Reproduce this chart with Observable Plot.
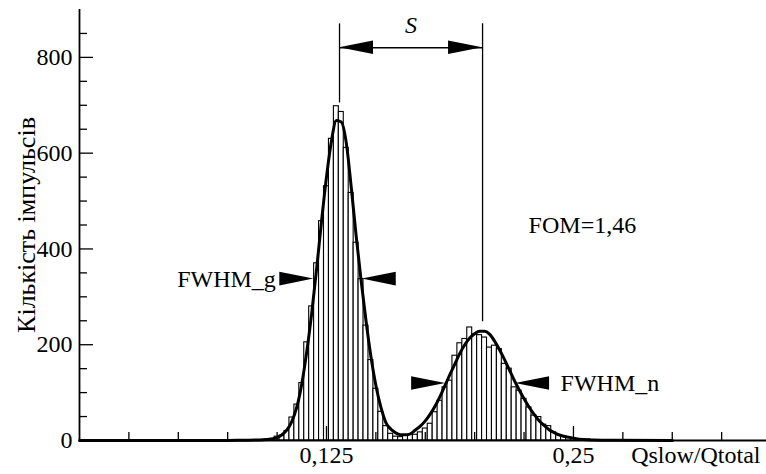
<!DOCTYPE html>
<html><head><meta charset="utf-8">
<script src="https://cdn.jsdelivr.net/npm/d3@7"></script>
<script src="https://cdn.jsdelivr.net/npm/@observablehq/plot@0.6"></script>
<style>body{margin:0;background:#fff} svg{display:block}</style>
</head><body><div id="chart"></div>
<script>
// ---- histogram (bin centres, counts), bin width 0.0025 ----
const binCenters = [0.0925,0.095,0.0975,0.1,0.1025,0.105,0.1075,0.11,0.1125,0.115,0.1175,0.12,0.1225,0.125,0.1275,0.13,0.1325,0.135,0.1375,0.14,0.1425,0.145,0.1475,0.15,0.1525,0.155,0.1575,0.16,0.1625,0.165,0.1675,0.17,0.1725,0.175,0.1775,0.18,0.1825,0.185,0.1875,0.19,0.1925,0.195,0.1975,0.2,0.2025,0.205,0.2075,0.21,0.2125,0.215,0.2175,0.22,0.2225,0.225,0.2275,0.23,0.2325,0.235,0.2375,0.24,0.2425,0.245,0.2475,0.25,0.2525,0.255,0.2575,0.26];
const binCounts  = [1,2,3,8,10,20,48,75,120,205,280,370,458,531,630,698,686,611,517,413,337,240,168,108,60,30,14,8,7,10,12,12,17,25,35,59,83,111,125,177,203,212,236,222,220,215,194,198,191,160,150,111,104,87,69,52,49,33,30,17,11,8,6,4,3,2,2,1];
const binWidth = 0.0025;

// ---- fitted curve ----
const fitX = [0,0.06,0.08,0.09,0.095,0.1,0.1025,0.105,0.1075,0.11,0.1125,0.115,0.1175,0.12,0.1225,0.125,0.1275,0.13,0.1325,0.135,0.1375,0.14,0.1425,0.145,0.1475,0.15,0.1525,0.155,0.1575,0.16,0.1625,0.165,0.1675,0.17,0.1725,0.175,0.1775,0.18,0.1825,0.185,0.1875,0.19,0.1925,0.195,0.1975,0.2,0.2025,0.205,0.2075,0.21,0.2125,0.215,0.2175,0.22,0.2225,0.225,0.2275,0.23,0.2325,0.235,0.2375,0.24,0.2425,0.245,0.25,0.255,0.26,0.27,0.3];
const fitY = [0,0,0.3,1,2,6,12,22,40,70,118,185,265,358,458,550,625,668,665,622,530,428,335,250,175,115,70,38,24,16,12,12,14,22,30,41,55,72,92,115,138,160,182,200,214,223,228,228,222,208,190,170,148,126,106,87,70,55,42,32,23,17,12,9,5,2,1,0.3,0];

// ---- axes ----
const xMinorTicks = [0.025,0.05,0.075,0.1,0.15,0.175,0.2,0.225,0.275,0.3,0.325];
const xMajorTicks = [0.125,0.25];
const xTickLabels = ["0,125","0,25"];
const yMinorTicks = [50,100,150,250,300,350,450,500,550,650,700,750,850];
const yMajorTicks = [0,200,400,600,800];
const yTickLabels = ["0","200","400","600","800"];
const xTitle = "Qslow/Qtotal";
const yTitle = "Кількість імпульсів";

// ---- annotations (data units) ----
const sPeaks = [0.1316, 0.2040];      // x of the two peak markers
const sPeakTops = [705, 248];         // lower ends of the marker lines
const sTop = 870, sLevel = 820;
const fwhmG = [0.1186, 0.1431], fwhmGLevel = 337;
const fwhmN = [0.1853, 0.2207], fwhmNLevel = 119;
const fomLabel = "FOM=1,46", fomX = 0.2273, fomY = 449;
const yTitleX = -0.0266, yTitleY = 450;

const bins = binCenters.map((c, i) => ({x1: c - binWidth/2, x2: c + binWidth/2, y: binCounts[i]}));
const fit = fitX.map((x, i) => ({x, y: fitY[i]}));

const heads = [
  {x: sPeaks[0], y: sLevel, dir: -1},
  {x: sPeaks[1], y: sLevel, dir: 1},
  {x: fwhmG[0], y: fwhmGLevel, dir: 1},
  {x: fwhmG[1], y: fwhmGLevel, dir: -1},
  {x: fwhmN[0], y: fwhmNLevel, dir: 1},
  {x: fwhmN[1], y: fwhmNLevel, dir: -1}
];
function arrowHeads(index, scales) {
  const g = d3.create("svg:g");
  const len = 34, half = 6.8;
  for (const h of heads) {
    const px = scales.x(h.x), py = scales.y(h.y), bx = px - h.dir * len;
    g.append("path").attr("d", `M${px},${py}L${bx},${py - half}L${bx},${py + half}Z`).attr("fill", "black");
  }
  return g.node();
}

const W = 766, H = 474, mL = 79, mR = 0, mT = 9, mB = 34;
const plotW = W - mL - mR, plotH = H - mT - mB;
const fs = 24;
const ff = "Liberation Serif";

const chart = Plot.plot({
  width: W, height: H,
  marginLeft: mL, marginRight: mR, marginTop: mT, marginBottom: mB,
  style: {background: "white", overflow: "visible"},
  x: {domain: [0, 0.3477], axis: null},
  y: {domain: [0, 900], axis: null},
  marks: [
    Plot.rectY(bins, {x1: "x1", x2: "x2", y: "y", fill: "white", stroke: "black", strokeWidth: 1.1}),
    Plot.line(fit, {x: "x", y: "y", stroke: "black", strokeWidth: 3, curve: "monotone-x"}),
    // axis lines
    Plot.ruleX([0], {stroke: "black", strokeWidth: 1.8}),
    Plot.ruleY([0], {stroke: "black", strokeWidth: 1.8}),
    // y ticks (inward)
    Plot.tickY(yMinorTicks, {y: d => d, insetRight: plotW - 8, stroke: "black", strokeWidth: 1.3}),
    Plot.tickY(yMajorTicks, {y: d => d, insetRight: plotW - 14, stroke: "black", strokeWidth: 1.3}),
    Plot.text(yMajorTicks, {y: d => d, text: (d, i) => yTickLabels[i], frameAnchor: "left", dx: -7, textAnchor: "end", fontSize: fs, fontFamily: ff, fill: "black"}),
    // x ticks (inward)
    Plot.tickX(xMinorTicks, {x: d => d, insetTop: plotH - 8, stroke: "black", strokeWidth: 1.3}),
    Plot.tickX(xMajorTicks, {x: d => d, insetTop: plotH - 14, stroke: "black", strokeWidth: 1.3}),
    Plot.text(xMajorTicks, {x: d => d, text: (d, i) => xTickLabels[i], frameAnchor: "bottom", dy: 22, fontSize: fs, fontFamily: ff, fill: "black"}),
    Plot.text([xTitle], {frameAnchor: "bottom-right", dx: -6, dy: 22, textAnchor: "end", fontSize: fs, fontFamily: ff, fill: "black"}),
    Plot.text([yTitle], {x: yTitleX, y: yTitleY, rotate: -90, fontSize: 26, fontFamily: ff, fill: "black"}),
    // S markers
    Plot.ruleX(sPeaks, {x: d => d, y1: sTop, y2: (d, i) => sPeakTops[i], stroke: "black", strokeWidth: 1.3}),
    Plot.ruleY([sLevel], {x1: sPeaks[0], x2: sPeaks[1], stroke: "black", strokeWidth: 1.6}),
    Plot.text(["S"], {x: (sPeaks[0] + sPeaks[1]) / 2, y: sLevel, dy: -22, fontSize: fs, fontStyle: "italic", fontFamily: ff, fill: "black"}),
    // FWHM labels
    Plot.text(["FWHM_g"], {x: fwhmG[0], y: fwhmGLevel, dx: -38, textAnchor: "end", fontSize: fs, fontFamily: ff, fill: "black"}),
    Plot.text(["FWHM_n"], {x: fwhmN[1], y: fwhmNLevel, dx: 45, textAnchor: "start", fontSize: fs, fontFamily: ff, fill: "black"}),
    Plot.text([fomLabel], {x: fomX, y: fomY, textAnchor: "start", fontSize: fs, fontFamily: ff, fill: "black"}),
    arrowHeads
  ]
});
document.getElementById("chart").appendChild(chart);
</script>
</body></html>
